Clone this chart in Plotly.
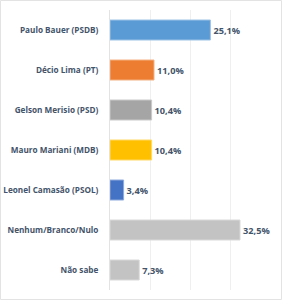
import plotly.graph_objects as go

categories = ["Paulo Bauer (PSDB)", "Décio Lima (PT)", "Gelson Merisio (PSD)",
              "Mauro Mariani (MDB)", "Leonel Camasão (PSOL)", "Nenhum/Branco/Nulo", "Não sabe"]
values = [25.1, 11.0, 10.4, 10.4, 3.4, 32.5, 7.3]
labels = ["25,1%", "11,0%", "10,4%", "10,4%", "3,4%", "32,5%", "7,3%"]
colors = ["#5B9BD5", "#ED7D31", "#A5A5A5", "#FFC000", "#4472C4", "#C3C3C3", "#C3C3C3"]
line_colors = ["#9DC3E6", "#F4B183", "#C9C9C9", "#FFD966", "#8FAADC", "#D9D9D9", "#D9D9D9"]

txt = "#44546A"
fnt = dict(family="Open Sans", size=9.2, color=txt, weight="bold")
tfnt = dict(family="Open Sans", size=8.2, color=txt, weight="bold")
fig = go.Figure(go.Bar(
    x=values, y=categories, orientation="h",
    marker=dict(color=colors, line=dict(color=line_colors, width=1)),
    text=labels, textposition="outside", cliponaxis=False,
    textfont=fnt, width=0.5,
))

fig.update_layout(
    width=282, height=300,
    margin=dict(l=110, r=12, t=10, b=10, autoexpand=False),
    paper_bgcolor="white", plot_bgcolor="white",
    showlegend=False,
    font=fnt,
    xaxis=dict(range=[0, 40], dtick=10, showticklabels=False, showgrid=True,
               gridcolor="#EFEFEF", gridwidth=1, zeroline=False, showline=False),
    yaxis=dict(autorange="reversed", showline=True, linecolor="#E3E3E3", linewidth=1,
               ticks="", ticklabelstandoff=9, automargin=False, tickfont=tfnt),
    shapes=[dict(type="rect", xref="paper", yref="paper",
                 x0=-109.5/160, x1=1 + 11.5/160, y0=-9.5/280, y1=1 + 9.5/280,
                 line=dict(color="#E3E3E3", width=1), layer="below")],
)
fig.write_html("out.html")
